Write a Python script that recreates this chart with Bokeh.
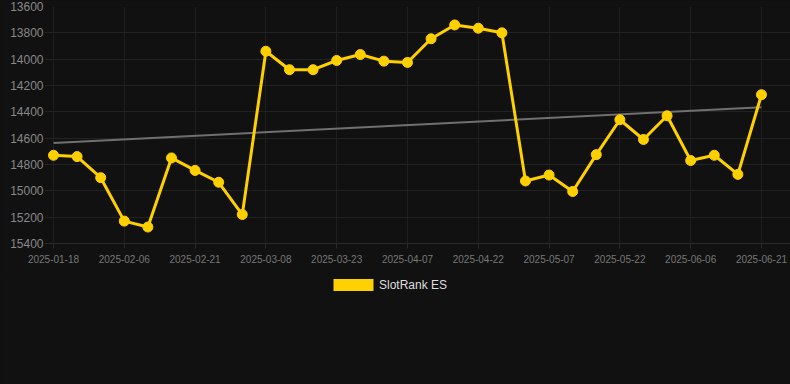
from bokeh.plotting import figure
from bokeh.layouts import column
from bokeh.models import (Range1d, FixedTicker, NumeralTickFormatter, Legend,
                          LegendItem, ColumnDataSource)
from bokeh.embed import file_html
from bokeh.resources import INLINE
import numpy as np

# ---- data ----
series_name = "SlotRank ES"
dates = [
    "2025-01-18", "2025-01-25", "2025-02-01", "2025-02-06", "2025-02-11",
    "2025-02-16", "2025-02-21", "2025-02-26", "2025-03-03", "2025-03-08",
    "2025-03-13", "2025-03-18", "2025-03-23", "2025-03-28", "2025-04-02",
    "2025-04-07", "2025-04-12", "2025-04-17", "2025-04-22", "2025-04-27",
    "2025-05-02", "2025-05-07", "2025-05-12", "2025-05-17", "2025-05-22",
    "2025-05-27", "2025-06-01", "2025-06-06", "2025-06-11", "2025-06-16",
    "2025-06-21",
]
ranks = [
    14730, 14740, 14900, 15230, 15275, 14750, 14845, 14935, 15180, 13940,
    14080, 14080, 14010, 13965, 14015, 14025, 13845, 13740, 13765, 13800,
    14925, 14880, 15005, 14725, 14460, 14610, 14430, 14770, 14730, 14875,
    14270,
]
y_ticks = [13600, 13800, 14000, 14200, 14400, 14600, 14800, 15000, 15200, 15400]
x_tick_step = 3

GOLD = "#FFD000"
BG = "#111111"
FONT = "Liberation Sans"

idx = list(range(len(dates)))
src = ColumnDataSource(dict(x=idx, y=ranks, d=dates))

coef = np.polyfit(idx, ranks, 1)
trend_x = [idx[0], idx[-1]]
trend_y = [float(np.polyval(coef, v)) for v in trend_x]

x_ticks = idx[::x_tick_step]

p = figure(width=790, height=272, output_backend="svg", toolbar_location=None,
           x_range=Range1d(-0.381, 31.23), y_range=Range1d(y_ticks[-1], y_ticks[0]),
           min_border_left=44, min_border_right=0, min_border_top=6,
           min_border_bottom=29,
           background_fill_color=BG, border_fill_color=BG,
           outline_line_color=None)

# grid
p.xgrid.ticker = FixedTicker(ticks=x_ticks)
p.ygrid.ticker = FixedTicker(ticks=y_ticks)
p.xgrid.grid_line_color = "#1f1f1f"
p.ygrid.grid_line_color = "#222222"
p.xgrid.grid_line_width = 1
p.ygrid.grid_line_width = 1

# axes
xa = p.xaxis[0]
xa.ticker = FixedTicker(ticks=x_ticks)
xa.major_label_overrides = {i: dates[i] for i in x_ticks}
xa.axis_line_color = "#2a2a2a"
xa.major_tick_line_color = "#2a2a2a"
xa.major_tick_out = 5
xa.major_tick_in = 0
xa.minor_tick_line_color = None
xa.major_label_standoff = 6
xa.major_label_text_font = FONT
xa.major_label_text_font_size = "10px"
xa.major_label_text_color = "#777777"

ya = p.yaxis[0]
ya.ticker = FixedTicker(ticks=y_ticks)
ya.formatter = NumeralTickFormatter(format="0")
ya.axis_line_color = None
ya.major_tick_line_color = None
ya.minor_tick_line_color = None
ya.major_tick_out = 0
ya.major_tick_in = 0
ya.major_label_standoff = 1
ya.major_label_text_font = FONT
ya.major_label_text_font_size = "12px"
ya.major_label_text_color = "#888888"

# trend line
p.line(trend_x, trend_y, line_color="#707070", line_width=2)

# series
p.line("x", "y", source=src, line_color=GOLD, line_width=3)
p.scatter("x", "y", source=src, size=10, fill_color=GOLD, line_color=GOLD)

# ---- legend strip (separate figure below the chart) ----
pl = figure(width=790, height=112, output_backend="svg", toolbar_location=None,
            x_range=Range1d(0, 1), y_range=Range1d(0, 1),
            x_axis_location=None, y_axis_location=None,
            min_border_left=0, min_border_right=0, min_border_top=0,
            min_border_bottom=0,
            background_fill_color=BG, border_fill_color=BG,
            outline_line_color=None)
pl.grid.visible = False
# zero-size boxes far outside this strip's range: only the legend swatch shows
swatch = pl.quad(left="x", right="x", top="y", bottom="y", source=src,
                 fill_color=GOLD, line_color=None)

legend = Legend(items=[LegendItem(label=series_name, renderers=[swatch])],
                orientation="horizontal", location="top_center",
                background_fill_color=BG, background_fill_alpha=0,
                border_line_color=None, padding=0, margin=5, spacing=0,
                glyph_width=50, glyph_height=15, label_height=15,
                label_width=127, label_standoff=1, label_text_font=FONT,
                label_text_font_size="12px", label_text_color="#dddddd")
pl.add_layout(legend, "center")

layout = column(p, pl, spacing=0)

html = file_html(layout, INLINE)
pos = html.rfind("<body>")
if pos >= 0:
    html = html[:pos] + '<body style="background-color:#111111;">' + html[pos + 6:]
open("out.html", "w").write(html)
